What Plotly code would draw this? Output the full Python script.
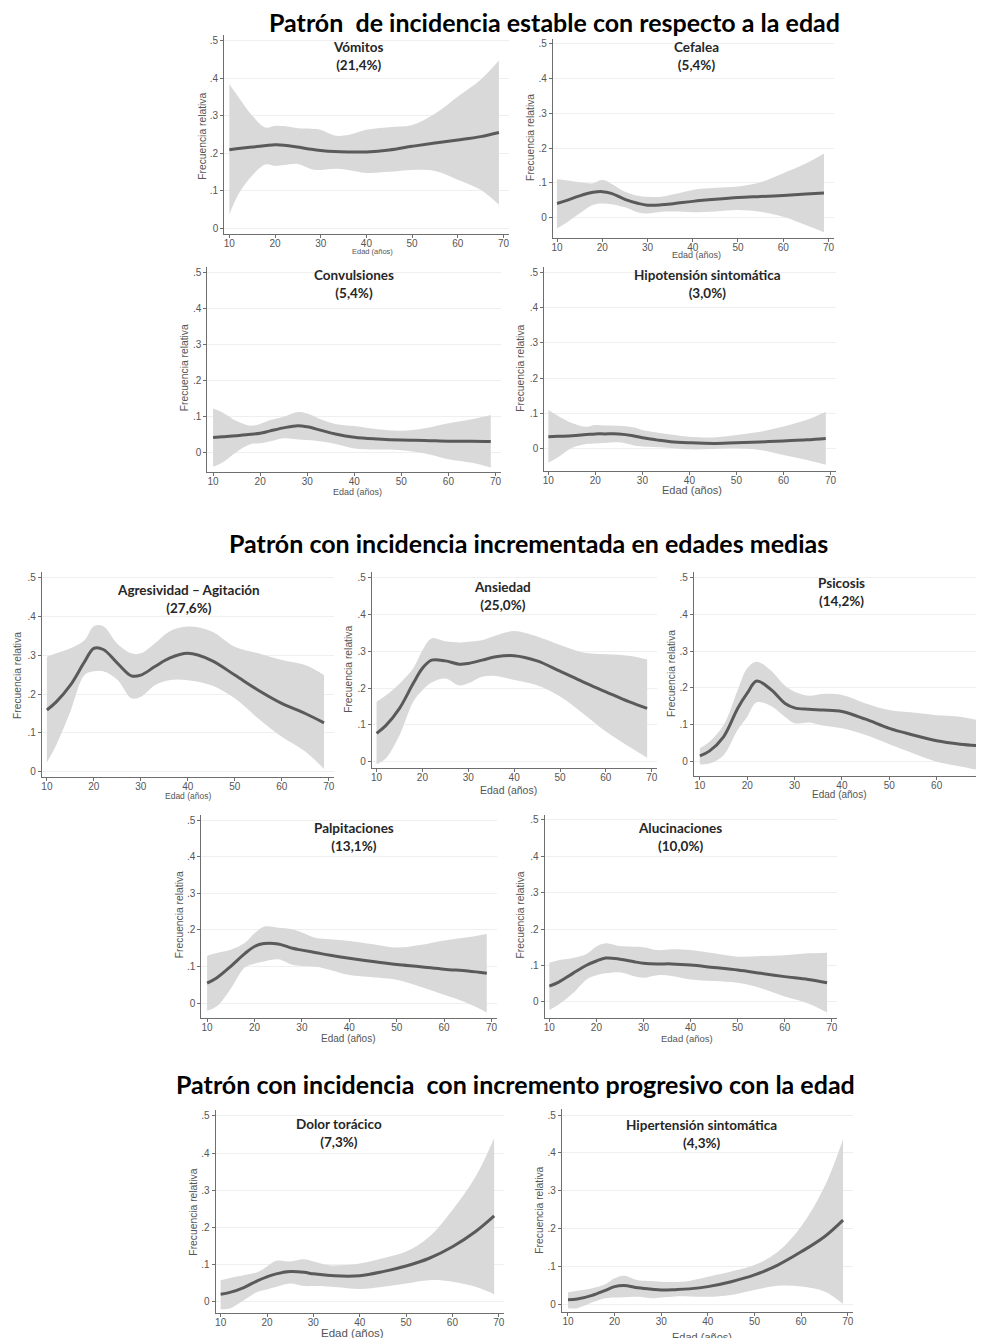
import plotly.graph_objects as go

# The page body has an 8 px margin; the figure is sized so it fills the 984x1338 window
OFF = 8
W, H = 984 - OFF, 1338 - OFF

# ---------------- DATA ----------------
AGES = [10, 12, 15, 18, 20, 22, 25, 28, 30, 33, 36, 40, 45, 50, 55, 60, 65, 69]
X_TICKS = [10, 20, 30, 40, 50, 60, 70]
Y_TICKS = [0, 0.1, 0.2, 0.3, 0.4, 0.5]
Y_TICKTEXT = ["0", ".1", ".2", ".3", ".4", ".5"]
X_TITLE = "Edad (años)"
Y_TITLE = "Frecuencia relativa"

SECTION_TITLES = [
    "Patrón \u00a0de incidencia estable con respecto a la edad",
    "Patrón con incidencia incrementada en edades medias",
    "Patrón con incidencia \u00a0con incremento progresivo con la edad",
]

panel_names = ["Vómitos", "Cefalea", "Convulsiones", "Hipotensión sintomática",
               "Agresividad – Agitación", "Ansiedad", "Psicosis",
               "Palpitaciones", "Alucinaciones",
               "Dolor torácico", "Hipertensión sintomática"]
panel_pct = ["(21,4%)", "(5,4%)", "(5,4%)", "(3,0%)",
             "(27,6%)", "(25,0%)", "(14,2%)",
             "(13,1%)", "(10,0%)",
             "(7,3%)", "(4,3%)"]

vomitos_mean = [.209, .212, .216, .220, .222, .221, .216, .210, .207, .204, .203, .203, .208, .218, .227, .235, .244, .255]
vomitos_hi = [.384, .35, .30, .268, .273, .272, .266, .265, .262, .247, .248, .262, .269, .275, .305, .351, .396, .447]
vomitos_lo = [.036, .09, .14, .17, .166, .168, .171, .157, .155, .158, .155, .147, .150, .155, .152, .129, .102, .062]

cefalea_mean = [.041, .049, .063, .073, .075, .070, .053, .041, .036, .037, .041, .047, .053, .058, .061, .064, .068, .071]
cefalea_hi = [.111, .108, .102, .099, .109, .098, .075, .063, .060, .060, .068, .080, .086, .090, .102, .128, .156, .185]
cefalea_lo = [-.031, -.015, .012, .037, .041, .039, .030, .015, .012, .017, .018, .016, .018, .022, .017, .003, -.021, -.042]

convul_mean = [.042, .044, .047, .051, .054, .060, .069, .075, .072, .062, .052, .043, .038, .035, .034, .032, .032, .031]
convul_hi = [.123, .112, .088, .075, .080, .090, .100, .113, .109, .092, .080, .074, .065, .061, .068, .082, .093, .105]
convul_lo = [-.039, -.027, .002, .024, .026, .031, .040, .037, .035, .031, .024, .012, .009, .007, -.002, -.018, -.028, -.041]

hipot_mean = [.033, .034, .036, .039, .041, .041, .041, .036, .030, .024, .019, .016, .014, .016, .018, .021, .024, .028]
hipot_hi = [.109, .093, .072, .061, .066, .065, .064, .060, .052, .045, .039, .033, .031, .038, .047, .062, .081, .104]
hipot_lo = [-.041, -.026, .001, .012, .014, .015, .017, .009, .005, .003, .001, -.003, -.002, .000, -.005, -.019, -.033, -.047]

agres_mean = [.159, .18, .223, .283, .318, .315, .280, .247, .249, .271, .292, .305, .287, .249, .210, .176, .150, .126]
agres_hi = [.296, .305, .318, .339, .375, .375, .330, .305, .305, .331, .361, .374, .362, .322, .305, .288, .275, .249]
agres_lo = [.024, .069, .155, .249, .259, .259, .237, .189, .193, .223, .236, .236, .223, .189, .137, .090, .052, .007]

ansie_mean = [.077, .098, .145, .213, .254, .276, .274, .265, .267, .276, .285, .288, .274, .246, .217, .190, .163, .145]
ansie_hi = [.163, .180, .212, .254, .303, .335, .327, .324, .326, .330, .343, .355, .340, .317, .297, .292, .288, .278]
ansie_lo = [-.007, .009, .072, .163, .194, .215, .226, .207, .213, .231, .233, .222, .208, .177, .131, .082, .041, .011]

psico_mean = [.014, .027, .066, .144, .185, .218, .195, .157, .145, .141, .139, .135, .114, .089, .071, .055, .046, .042]
psico_hi = [.035, .052, .098, .194, .253, .271, .247, .205, .189, .178, .183, .180, .157, .139, .132, .125, .121, .110]
psico_lo = [-.009, -.007, .016, .085, .121, .160, .150, .120, .103, .105, .097, .089, .071, .046, .021, -.002, -.015, -.025]

palpi_mean = [.055, .069, .101, .136, .155, .163, .162, .150, .145, .138, .131, .123, .114, .106, .100, .093, .088, .082]
palpi_hi = [.130, .137, .146, .165, .191, .209, .206, .202, .193, .178, .175, .170, .161, .152, .159, .171, .180, .189]
palpi_lo = [-.020, -.009, .040, .098, .108, .114, .120, .105, .102, .100, .091, .077, .071, .064, .045, .023, .000, -.025]

aluci_mean = [.043, .054, .078, .101, .112, .120, .117, .110, .106, .104, .104, .101, .094, .087, .078, .069, .061, .052]
aluci_hi = [.107, .114, .120, .132, .152, .161, .153, .151, .150, .142, .144, .142, .133, .124, .126, .128, .133, .135]
aluci_lo = [-.023, -.008, .023, .062, .073, .078, .081, .070, .066, .073, .071, .061, .057, .052, .037, .014, -.005, -.030]

dolor_mean = [.020, .025, .038, .057, .067, .075, .081, .079, .075, .071, .069, .070, .081, .096, .117, .148, .189, .231]
dolor_hi = [.058, .064, .071, .080, .095, .110, .108, .114, .108, .099, .098, .103, .117, .135, .175, .247, .337, .440]
dolor_lo = [-.020, -.018, .004, .027, .033, .040, .049, .042, .042, .041, .038, .034, .040, .049, .058, .054, .040, .020]

hiper_mean = [.011, .013, .022, .036, .046, .049, .043, .039, .037, .038, .040, .046, .059, .077, .103, .138, .178, .222]
hiper_hi = [.031, .035, .041, .052, .068, .075, .063, .061, .059, .058, .061, .072, .086, .103, .138, .205, .310, .436]
hiper_lo = [-.011, -.011, .003, .015, .017, .018, .019, .015, .017, .020, .020, .019, .024, .037, .048, .046, .033, .000]

series = [
    (vomitos_mean, vomitos_lo, vomitos_hi),
    (cefalea_mean, cefalea_lo, cefalea_hi),
    (convul_mean, convul_lo, convul_hi),
    (hipot_mean, hipot_lo, hipot_hi),
    (agres_mean, agres_lo, agres_hi),
    (ansie_mean, ansie_lo, ansie_hi),
    (psico_mean, psico_lo, psico_hi),
    (palpi_mean, palpi_lo, palpi_hi),
    (aluci_mean, aluci_lo, aluci_hi),
    (dolor_mean, dolor_lo, dolor_hi),
    (hiper_mean, hiper_lo, hiper_hi),
]

# ---------------- LAYOUT GEOMETRY (window pixels) ----------------
# (px of age 10, px of age 70, axis left px, px of y=0, px of y=.5, axis bottom px)
geom = [
    (228.0, 503.0, 223.0, 228.0, 40.7, 234.0),
    (556.7, 829.0, 552.7, 217.7, 44.0, 238.0),
    (211.7, 495.0, 206.0, 452.7, 272.7, 471.7),
    (548.0, 831.0, 544.0, 448.3, 272.7, 470.7),
    (45.0, 327.7, 40.0, 771.7, 577.7, 777.0),
    (375.7, 651.7, 371.0, 761.7, 577.7, 768.3),
    (700.0, 985.0, 694.0, 761.0, 577.7, 775.7),
    (205.7, 491.0, 200.0, 1003.3, 820.0, 1018.3),
    (549.0, 832.3, 544.3, 1001.7, 820.0, 1018.3),
    (219.3, 498.3, 214.3, 1301.7, 1116.0, 1313.3),
    (567.7, 848.3, 561.7, 1304.0, 1115.0, 1311.7),
]
# subplot title centres (x, y of first line, y of second line)
title_pos = [
    (358, 46.7, 65), (697, 46.7, 65), (353, 274, 293), (708, 274, 293),
    (187, 590, 608), (502, 586, 605), (842, 583, 601),
    (353, 828, 846), (680, 828, 846),
    (338, 1123, 1142), (702, 1125, 1143),
]
# x-axis title (centre x, centre y, font size)
xtitle_pos = [
    (371.7, 251.5, 7.5), (696.7, 255.0, 9), (356.7, 491.5, 9), (691.7, 490.0, 11),
    (186.7, 796.0, 8.5), (508.3, 789.5, 10.5), (840.0, 794.0, 10),
    (346.7, 1038.5, 10), (686.7, 1038.5, 9.5),
    (351.7, 1333.3, 11.5), (701.7, 1336.7, 11),
]
# y-axis title (centre x, centre y)
ytitle_pos = [
    (201.7, 136.7), (530.0, 137.5), (183.3, 367.5), (520.0, 368.3),
    (15.0, 675.0), (347.7, 669.2), (671.7, 673.3),
    (177.7, 915.0), (520.0, 915.0),
    (191.7, 1212.5), (538.3, 1210.0),
]
section_pos = [(554.5, 22), (528.5, 543), (515.5, 1084)]


def fx(px):
    return (px - OFF) / W


def fy(py):
    return 1 - (py - OFF) / H


LINE_COLOR = "#5a5a5a"
BAND_COLOR = "#d9d9d9"
AXIS_COLOR = "#6e6e6e"
TEXT_GRAY = "#555555"
SANS = "Liberation Sans, Arial, sans-serif"
TICK_FONT = dict(family=SANS, size=10, color=TEXT_GRAY)
TITLE_FONT = dict(family="Lato, Open Sans, sans-serif", size=13.5, color="#262626")

fig = go.Figure()
layout = dict(
    width=W, height=H, margin=dict(l=0, r=0, t=0, b=0),
    paper_bgcolor="white", plot_bgcolor="white", showlegend=False,
    annotations=[],
)

for i, ((mean, lo, hi), (p10, p70, axL, p0, p05, axB)) in enumerate(zip(series, geom)):
    n = i + 1
    xa = "x" if n == 1 else f"x{n}"
    ya = "y" if n == 1 else f"y{n}"
    ppy = (p70 - p10) / 60.0
    xmin = 10 - (p10 - axL) / ppy
    xmax = 71.2
    right_px = p10 + (xmax - 10) * ppy
    if right_px - OFF > W:
        right_px = W + OFF
        xmax = 10 + (right_px - p10) / ppy
    ppu = (p0 - p05) / 0.5
    ymin = -(axB - p0) / ppu
    ymax = 0.515
    top_px = p0 - ymax * ppu

    fig.add_trace(go.Scatter(x=AGES, y=hi, mode="lines", line=dict(width=0, shape="spline", color=BAND_COLOR),
                             xaxis=xa, yaxis=ya, hoverinfo="skip"))
    fig.add_trace(go.Scatter(x=AGES, y=lo, mode="lines", line=dict(width=0, shape="spline", color=BAND_COLOR),
                             fill="tonexty", fillcolor=BAND_COLOR, xaxis=xa, yaxis=ya, hoverinfo="skip"))
    fig.add_trace(go.Scatter(x=AGES, y=mean, mode="lines", line=dict(width=3, shape="spline", color=LINE_COLOR),
                             xaxis=xa, yaxis=ya))

    xkey = "xaxis" if n == 1 else f"xaxis{n}"
    ykey = "yaxis" if n == 1 else f"yaxis{n}"
    layout[xkey] = dict(
        domain=[fx(axL), min(fx(right_px), 1.0)], range=[xmin, xmax], anchor=ya,
        tickvals=X_TICKS, tickfont=TICK_FONT, ticks="outside", ticklen=3, tickcolor=AXIS_COLOR,
        ticklabelstandoff=-3,
        showline=True, linecolor=AXIS_COLOR, linewidth=1.3, showgrid=False, zeroline=False,
        fixedrange=True,
    )
    layout[ykey] = dict(
        domain=[fy(axB), fy(top_px)], range=[ymin, ymax], anchor=xa,
        tickvals=Y_TICKS, ticktext=Y_TICKTEXT, tickfont=TICK_FONT, ticks="outside", ticklen=3,
        tickcolor=AXIS_COLOR, showline=True, linecolor=AXIS_COLOR, linewidth=1.3,
        showgrid=True, gridcolor="#efefef", gridwidth=1, zeroline=False,
        fixedrange=True,
    )
    cx, y1, y2 = title_pos[i]
    layout["annotations"].append(dict(
        text=f"<b>{panel_names[i]}</b><br><b>{panel_pct[i]}</b>", x=fx(cx), y=fy((y1 + y2) / 2),
        xref="paper", yref="paper", xanchor="center", yanchor="middle", showarrow=False,
        font=TITLE_FONT,
    ))
    tx, ty, ts = xtitle_pos[i]
    layout["annotations"].append(dict(
        text=X_TITLE, x=fx(tx), y=fy(ty), xref="paper", yref="paper",
        xanchor="center", yanchor="middle", showarrow=False,
        font=dict(family=SANS, size=ts, color=TEXT_GRAY),
    ))
    vx, vy = ytitle_pos[i]
    layout["annotations"].append(dict(
        text=Y_TITLE, x=fx(vx), y=fy(vy), xref="paper", yref="paper", textangle=-90,
        xanchor="center", yanchor="middle", showarrow=False,
        font=dict(family=SANS, size=10.3, color=TEXT_GRAY),
    ))

for txt, (cx, cy) in zip(SECTION_TITLES, section_pos):
    layout["annotations"].append(dict(
        text=f"<b>{txt}</b>", x=fx(cx), y=fy(cy), xref="paper", yref="paper",
        xanchor="center", yanchor="middle", showarrow=False,
        font=dict(family="Lato, Open Sans, sans-serif", size=25, color="#000000"),
    ))

fig.update_layout(**layout)
fig.write_html("out.html")
